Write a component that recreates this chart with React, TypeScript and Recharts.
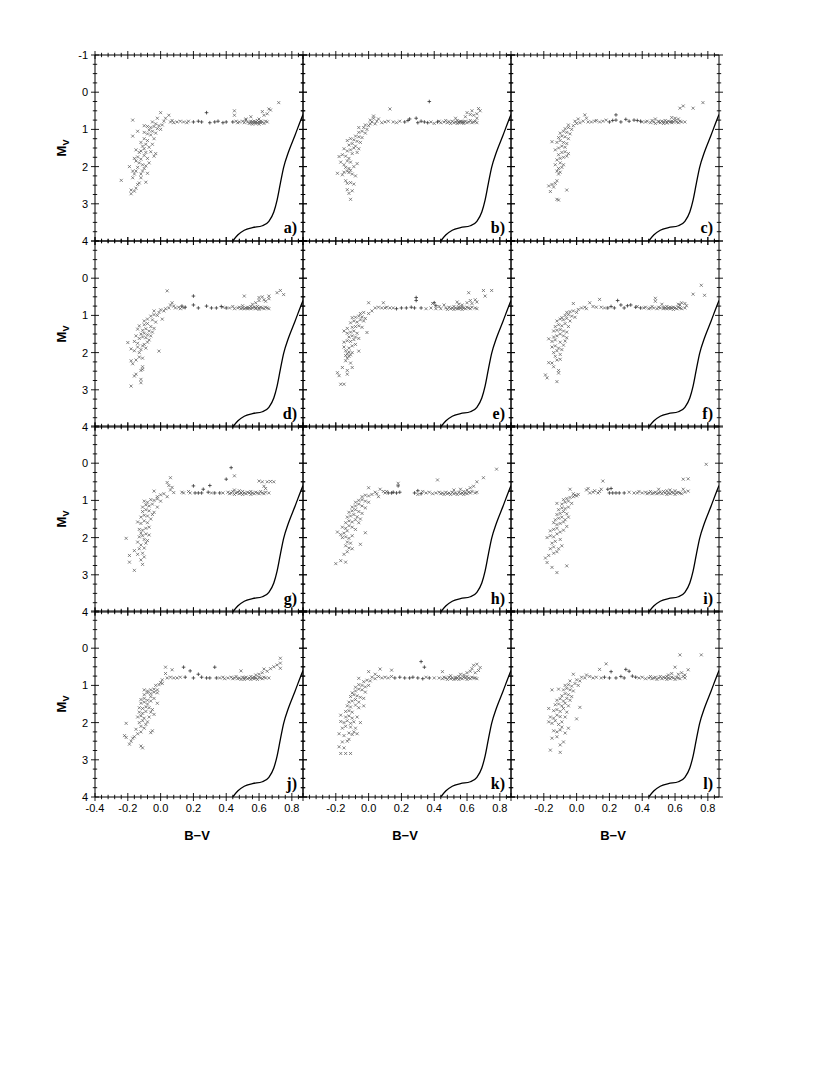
import { ScatterChart, Scatter, XAxis, YAxis } from "recharts";

// B-V, M_V pairs ("x" markers)
const aCross = [
  [-0.24, 2.37], [-0.19, 2.0], [-0.18, 2.63], [-0.18, 2.73], [-0.16, 2.66], [-0.15, 2.58], [-0.14, 2.48], [-0.13, 2.44],
  [-0.17, 2.3], [-0.16, 2.2], [-0.17, 2.12], [-0.15, 2.12], [-0.14, 2.02], [-0.12, 2.3], [-0.12, 2.2], [-0.11, 2.12],
  [-0.13, 1.9], [-0.15, 1.85], [-0.16, 1.78], [-0.14, 1.74], [-0.12, 1.8], [-0.11, 1.95], [-0.1, 2.05], [-0.09, 1.98],
  [-0.08, 2.18], [-0.09, 2.42], [-0.13, 1.62], [-0.15, 1.55], [-0.12, 1.58], [-0.1, 1.7], [-0.1, 1.52], [-0.09, 1.62],
  [-0.08, 1.78], [-0.07, 1.9], [-0.11, 1.45], [-0.09, 1.4], [-0.12, 1.35], [-0.1, 1.25], [-0.08, 1.3], [-0.07, 1.48],
  [-0.06, 1.6], [-0.04, 1.72], [-0.03, 1.65], [-0.05, 1.4], [-0.04, 1.25], [-0.06, 1.15], [-0.08, 1.12], [-0.1, 1.08],
  [-0.14, 1.05], [-0.17, 1.18], [-0.07, 1.02], [-0.05, 1.05], [-0.03, 1.1], [-0.06, 0.95], [-0.04, 0.92], [-0.02, 0.98],
  [-0.01, 0.9], [0.0, 1.0], [0.01, 0.88], [-0.08, 0.92], [-0.1, 0.9], [-0.03, 0.85], [0.02, 0.78], [-0.17, 0.75],
  [0.0, 0.55], [0.05, 0.62], [0.03, 0.7], [0.06, 0.8], [0.07, 0.76], [-0.05, 0.8], [-0.02, 0.7], [0.08, 0.82],
  [0.1, 0.8], [0.12, 0.78], [0.14, 0.8], [0.16, 0.82], [0.17, 0.78],
  [0.45, 0.5], [0.45, 0.62], [0.46, 0.78], [0.47, 0.82], [0.48, 0.8], [0.5, 0.78], [0.51, 0.82], [0.52, 0.75],
  [0.53, 0.8], [0.54, 0.84], [0.55, 0.78], [0.55, 0.82], [0.56, 0.8], [0.56, 0.86], [0.57, 0.78], [0.57, 0.82],
  [0.58, 0.8], [0.58, 0.84], [0.59, 0.76], [0.59, 0.82], [0.6, 0.8], [0.6, 0.86], [0.61, 0.78], [0.61, 0.82],
  [0.62, 0.8], [0.63, 0.84], [0.64, 0.78], [0.65, 0.8], [0.52, 0.72], [0.6, 0.72], [0.62, 0.52], [0.63, 0.62],
  [0.65, 0.58], [0.66, 0.45], [0.67, 0.48], [0.72, 0.28], [0.55, 0.66],
];
const aPlus = [[0.2, 0.8], [0.23, 0.78], [0.25, 0.8], [0.28, 0.55], [0.3, 0.82], [0.33, 0.8], [0.35, 0.78], [0.38, 0.82], [0.4, 0.8], [0.44, 0.8]];

const bCross = [
  [-0.11, 2.88], [-0.12, 2.72], [-0.13, 2.62], [-0.1, 2.65], [-0.13, 2.45], [-0.11, 2.43], [-0.09, 2.47], [-0.14, 2.38],
  [-0.19, 2.18], [-0.16, 2.22], [-0.15, 2.15], [-0.13, 2.12], [-0.12, 2.16], [-0.11, 2.1], [-0.12, 2.05], [-0.14, 2.02],
  [-0.1, 2.2], [-0.08, 2.25], [-0.09, 2.0], [-0.15, 1.95], [-0.17, 1.88], [-0.13, 1.85], [-0.11, 1.88], [-0.07, 1.92],
  [-0.18, 1.73], [-0.16, 1.68], [-0.14, 1.72], [-0.12, 1.78], [-0.1, 1.65], [-0.13, 1.58], [-0.11, 1.55], [-0.15, 1.52],
  [-0.09, 1.5], [-0.07, 1.62], [-0.12, 1.42], [-0.1, 1.38], [-0.08, 1.45], [-0.06, 1.52], [-0.13, 1.3], [-0.11, 1.25],
  [-0.09, 1.28], [-0.07, 1.32], [-0.05, 1.35], [-0.08, 1.18], [-0.06, 1.2], [-0.04, 1.22], [-0.06, 1.08], [-0.04, 1.05],
  [-0.02, 1.1], [-0.06, 0.95], [-0.03, 0.95], [-0.01, 1.0], [-0.02, 0.88], [0.0, 0.9], [0.01, 0.85], [0.02, 0.8],
  [0.01, 0.75], [0.03, 0.7], [0.03, 0.64], [0.05, 0.78], [0.06, 0.72], [0.04, 0.85],
  [0.08, 0.82], [0.1, 0.8], [0.13, 0.45], [0.12, 0.78], [0.15, 0.8], [0.17, 0.82], [0.19, 0.78],
  [0.38, 0.8], [0.4, 0.84], [0.43, 0.78], [0.44, 0.82], [0.46, 0.8], [0.47, 0.76], [0.48, 0.82], [0.49, 0.79],
  [0.5, 0.84], [0.51, 0.78], [0.52, 0.82], [0.53, 0.8], [0.54, 0.76], [0.54, 0.84], [0.55, 0.8], [0.55, 0.82],
  [0.56, 0.78], [0.56, 0.8], [0.57, 0.82], [0.57, 0.79], [0.58, 0.8], [0.58, 0.84], [0.59, 0.78], [0.6, 0.82],
  [0.61, 0.8], [0.62, 0.76], [0.63, 0.82], [0.64, 0.8], [0.65, 0.78], [0.66, 0.82], [0.53, 0.7], [0.59, 0.66],
  [0.6, 0.55], [0.62, 0.6], [0.63, 0.5], [0.64, 0.62], [0.66, 0.58], [0.67, 0.44], [0.68, 0.5], [0.66, 0.7],
];
const bPlus = [[0.22, 0.8], [0.24, 0.76], [0.25, 0.72], [0.29, 0.7], [0.3, 0.82], [0.32, 0.78], [0.34, 0.8], [0.37, 0.25], [0.36, 0.82], [0.42, 0.8]];

const cCross = [
  [-0.11, 2.9], [-0.12, 2.88], [-0.16, 2.67], [-0.17, 2.52], [-0.15, 2.48], [-0.13, 2.45], [-0.14, 2.55], [-0.06, 2.63],
  [-0.12, 2.38], [-0.11, 2.2], [-0.1, 2.15], [-0.12, 2.12], [-0.11, 2.05], [-0.09, 2.02], [-0.13, 1.95], [-0.1, 1.9],
  [-0.08, 1.95], [-0.12, 1.82], [-0.1, 1.78], [-0.08, 1.75], [-0.06, 1.72], [-0.11, 1.68], [-0.09, 1.62], [-0.07, 1.6],
  [-0.05, 1.65], [-0.13, 1.55], [-0.11, 1.5], [-0.09, 1.45], [-0.07, 1.48], [-0.15, 1.33], [-0.12, 1.35], [-0.1, 1.3],
  [-0.08, 1.35], [-0.06, 1.38], [-0.11, 1.22], [-0.09, 1.18], [-0.07, 1.2], [-0.05, 1.25], [-0.1, 1.1], [-0.08, 1.05],
  [-0.06, 1.08], [-0.04, 1.12], [-0.07, 0.98], [-0.05, 0.95], [-0.03, 1.0], [-0.05, 0.88], [-0.02, 0.9], [0.0, 0.84],
  [-0.01, 0.78], [0.02, 0.82], [0.01, 0.72], [0.04, 0.78], [0.05, 0.61], [0.06, 0.7], [0.07, 0.8],
  [0.09, 0.8], [0.11, 0.78], [0.12, 0.76], [0.14, 0.8], [0.16, 0.78], [0.18, 0.75],
  [0.4, 0.8], [0.42, 0.8], [0.43, 0.78], [0.45, 0.82], [0.46, 0.76], [0.47, 0.8], [0.48, 0.72], [0.48, 0.84],
  [0.5, 0.8], [0.5, 0.78], [0.51, 0.82], [0.52, 0.78], [0.53, 0.8], [0.53, 0.84], [0.54, 0.76], [0.55, 0.8],
  [0.55, 0.83], [0.56, 0.78], [0.57, 0.8], [0.58, 0.82], [0.58, 0.78], [0.59, 0.8], [0.6, 0.76], [0.61, 0.8],
  [0.62, 0.82], [0.63, 0.78], [0.64, 0.8], [0.66, 0.8], [0.58, 0.68], [0.6, 0.7], [0.62, 0.72], [0.63, 0.43],
  [0.65, 0.37], [0.71, 0.43], [0.77, 0.28],
];
const cPlus = [[0.2, 0.8], [0.22, 0.76], [0.24, 0.61], [0.24, 0.75], [0.27, 0.8], [0.3, 0.73], [0.32, 0.78], [0.35, 0.75], [0.37, 0.76], [0.39, 0.78]];

const dCross = [
  [-0.18, 2.9], [-0.12, 2.81], [-0.12, 2.72], [-0.16, 2.63], [-0.15, 2.58], [-0.12, 2.48], [-0.11, 2.45], [-0.11, 2.38],
  [-0.17, 2.3], [-0.18, 2.22], [-0.15, 2.2], [-0.13, 2.12], [-0.11, 2.15], [-0.13, 2.0], [-0.16, 1.95], [-0.18, 1.9],
  [-0.12, 1.92], [-0.09, 1.88], [-0.01, 1.96], [-0.14, 1.85], [-0.11, 1.82], [-0.2, 1.73], [-0.16, 1.7], [-0.14, 1.75],
  [-0.1, 1.78], [-0.08, 1.72], [-0.13, 1.62], [-0.11, 1.58], [-0.09, 1.6], [-0.07, 1.66], [-0.15, 1.55], [-0.12, 1.5],
  [-0.1, 1.48], [-0.08, 1.52], [-0.06, 1.55], [-0.14, 1.37], [-0.11, 1.4], [-0.09, 1.36], [-0.07, 1.42], [-0.05, 1.45],
  [-0.13, 1.28], [-0.1, 1.25], [-0.08, 1.22], [-0.06, 1.3], [-0.04, 1.35], [-0.1, 1.15], [-0.08, 1.1], [-0.05, 1.12],
  [-0.03, 1.18], [0.01, 1.1], [-0.06, 1.02], [-0.04, 0.98], [-0.02, 1.0], [-0.04, 0.88], [-0.01, 0.92], [0.0, 0.85],
  [0.02, 0.88], [0.04, 0.34], [0.03, 0.82], [0.05, 0.8], [0.07, 0.66], [0.08, 0.75], [0.06, 0.72], [0.09, 0.8],
  [0.11, 0.78], [0.12, 0.82], [0.14, 0.8],
  [0.38, 0.78], [0.42, 0.8], [0.44, 0.76], [0.45, 0.82], [0.47, 0.8], [0.48, 0.78], [0.49, 0.82], [0.5, 0.8],
  [0.5, 0.74], [0.51, 0.48], [0.51, 0.82], [0.52, 0.8], [0.53, 0.78], [0.53, 0.82], [0.54, 0.8], [0.55, 0.76],
  [0.55, 0.82], [0.56, 0.8], [0.57, 0.78], [0.58, 0.82], [0.58, 0.8], [0.59, 0.76], [0.6, 0.8], [0.6, 0.84],
  [0.61, 0.78], [0.62, 0.8], [0.63, 0.82], [0.64, 0.78], [0.65, 0.8], [0.66, 0.82], [0.56, 0.7], [0.58, 0.66],
  [0.6, 0.6], [0.6, 0.52], [0.62, 0.5], [0.63, 0.58], [0.64, 0.62], [0.66, 0.55], [0.66, 0.48], [0.71, 0.39],
  [0.73, 0.33], [0.75, 0.44],
];
const dPlus = [[0.13, 0.75], [0.15, 0.78], [0.2, 0.48], [0.2, 0.72], [0.23, 0.8], [0.28, 0.75], [0.31, 0.8], [0.34, 0.8], [0.37, 0.76], [0.4, 0.8]];

const eCross = [
  [-0.17, 2.85], [-0.15, 2.85], [-0.19, 2.54], [-0.18, 2.62], [-0.16, 2.4], [-0.13, 2.58], [-0.13, 2.48], [-0.1, 2.4],
  [-0.11, 2.28], [-0.14, 2.22], [-0.13, 2.15], [-0.12, 2.1], [-0.14, 2.08], [-0.13, 2.03], [-0.11, 2.06], [-0.1, 2.0],
  [-0.12, 1.98], [-0.14, 1.95], [-0.06, 1.96], [-0.15, 1.85], [-0.12, 1.88], [-0.1, 1.82], [-0.08, 1.78], [-0.15, 1.72],
  [-0.13, 1.68], [-0.11, 1.7], [-0.09, 1.65], [-0.12, 1.58], [-0.1, 1.55], [-0.08, 1.58], [-0.06, 1.62], [-0.15, 1.42],
  [-0.13, 1.48], [-0.11, 1.45], [-0.09, 1.42], [-0.07, 1.48], [-0.01, 1.46], [-0.13, 1.35], [-0.1, 1.32], [-0.08, 1.3],
  [-0.06, 1.28], [-0.04, 1.32], [-0.11, 1.2], [-0.09, 1.15], [-0.07, 1.18], [-0.05, 1.12], [-0.03, 1.15], [-0.1, 1.06],
  [-0.08, 1.05], [-0.06, 1.02], [-0.04, 1.04], [-0.02, 1.08], [-0.05, 0.95], [-0.03, 0.92], [0.0, 0.95], [0.02, 0.88],
  [0.0, 0.66], [0.04, 0.8], [0.06, 0.78], [0.09, 0.66], [0.08, 0.8],
  [0.1, 0.8], [0.11, 0.78], [0.13, 0.8], [0.15, 0.8],
  [0.35, 0.82], [0.38, 0.8], [0.39, 0.68], [0.41, 0.82], [0.43, 0.76], [0.44, 0.82], [0.46, 0.72], [0.47, 0.8],
  [0.48, 0.84], [0.49, 0.78], [0.5, 0.82], [0.51, 0.8], [0.52, 0.76], [0.52, 0.84], [0.53, 0.8], [0.54, 0.82],
  [0.55, 0.78], [0.55, 0.82], [0.56, 0.8], [0.57, 0.84], [0.57, 0.78], [0.58, 0.8], [0.59, 0.82], [0.6, 0.78],
  [0.61, 0.8], [0.62, 0.82], [0.63, 0.78], [0.65, 0.8], [0.66, 0.82], [0.54, 0.64], [0.55, 0.7], [0.57, 0.72],
  [0.61, 0.39], [0.6, 0.66], [0.62, 0.6], [0.63, 0.68], [0.65, 0.58], [0.66, 0.64], [0.7, 0.33], [0.71, 0.48],
  [0.75, 0.33],
];
const ePlus = [[0.17, 0.82], [0.2, 0.8], [0.23, 0.8], [0.26, 0.78], [0.28, 0.8], [0.29, 0.52], [0.29, 0.6], [0.32, 0.8], [0.4, 0.66], [0.41, 0.74]];

const fCross = [
  [-0.12, 2.78], [-0.19, 2.6], [-0.18, 2.68], [-0.11, 2.55], [-0.11, 2.48], [-0.14, 2.38], [-0.17, 2.27], [-0.15, 2.28],
  [-0.12, 2.2], [-0.1, 2.18], [-0.13, 2.1], [-0.1, 2.05], [-0.14, 2.0], [-0.12, 1.95], [-0.09, 1.92], [-0.15, 1.85],
  [-0.13, 1.82], [-0.11, 1.88], [-0.08, 1.8], [-0.17, 1.63], [-0.15, 1.7], [-0.13, 1.66], [-0.1, 1.72], [-0.07, 1.69],
  [-0.14, 1.58], [-0.12, 1.55], [-0.1, 1.5], [-0.08, 1.55], [-0.06, 1.6], [-0.14, 1.42], [-0.12, 1.4], [-0.1, 1.38],
  [-0.08, 1.42], [-0.06, 1.45], [-0.13, 1.3], [-0.11, 1.25], [-0.09, 1.28], [-0.07, 1.22], [-0.05, 1.3], [-0.12, 1.15],
  [-0.1, 1.1], [-0.08, 1.12], [-0.06, 1.08], [-0.04, 1.15], [-0.09, 1.06], [-0.07, 1.0], [-0.05, 0.98], [-0.03, 1.02],
  [-0.01, 1.05], [-0.06, 0.92], [-0.04, 0.9], [-0.02, 0.88], [0.0, 0.92], [-0.02, 0.68], [0.01, 0.84], [0.03, 0.8],
  [0.05, 0.78], [0.06, 0.82], [0.08, 0.66], [0.1, 0.76], [0.14, 0.57], [0.12, 0.78],
  [0.15, 0.78], [0.17, 0.8],
  [0.37, 0.76], [0.41, 0.8], [0.42, 0.78], [0.44, 0.82], [0.45, 0.8], [0.46, 0.76], [0.47, 0.8], [0.48, 0.54],
  [0.48, 0.62], [0.49, 0.82], [0.5, 0.78], [0.51, 0.8], [0.52, 0.7], [0.53, 0.82], [0.53, 0.78], [0.54, 0.8],
  [0.55, 0.76], [0.55, 0.82], [0.56, 0.8], [0.57, 0.78], [0.57, 0.82], [0.58, 0.8], [0.59, 0.84], [0.59, 0.78],
  [0.6, 0.8], [0.61, 0.82], [0.62, 0.78], [0.63, 0.8], [0.64, 0.82], [0.66, 0.8], [0.62, 0.7], [0.63, 0.72],
  [0.64, 0.66], [0.66, 0.68], [0.67, 0.74], [0.71, 0.43], [0.76, 0.19], [0.78, 0.46],
];
const fPlus = [[0.19, 0.8], [0.21, 0.76], [0.23, 0.8], [0.25, 0.6], [0.27, 0.72], [0.29, 0.8], [0.31, 0.74], [0.33, 0.72], [0.36, 0.78], [0.39, 0.8]];

const gCross = [
  [-0.16, 2.88], [-0.21, 2.02], [-0.19, 2.48], [-0.19, 2.66], [-0.11, 2.72], [-0.12, 2.6], [-0.1, 2.52], [-0.11, 2.42],
  [-0.14, 2.45], [-0.16, 2.35], [-0.13, 2.3], [-0.1, 2.28], [-0.12, 2.2], [-0.09, 2.15], [-0.14, 2.12], [-0.1, 2.05],
  [-0.08, 2.08], [-0.13, 1.98], [-0.11, 1.95], [-0.12, 1.88], [-0.09, 1.9], [-0.07, 1.93], [-0.13, 1.78], [-0.11, 1.8],
  [-0.09, 1.75], [-0.07, 1.72], [-0.14, 1.58], [-0.12, 1.62], [-0.1, 1.55], [-0.08, 1.6], [-0.06, 1.5], [-0.12, 1.45],
  [-0.1, 1.4], [-0.08, 1.42], [-0.05, 1.38], [-0.11, 1.3], [-0.09, 1.25], [-0.07, 1.28], [-0.04, 1.32], [-0.11, 1.18],
  [-0.09, 1.12], [-0.07, 1.15], [-0.05, 1.1], [-0.02, 1.18], [-0.1, 1.02], [-0.08, 1.05], [-0.06, 0.98], [-0.04, 1.0],
  [-0.02, 0.96], [0.0, 1.02], [-0.04, 0.75], [-0.02, 0.9], [0.0, 0.85], [0.02, 0.82], [0.04, 0.52], [0.06, 0.39],
  [0.05, 0.6], [0.06, 0.72], [0.08, 0.79], [0.04, 0.9], [0.07, 0.65],
  [0.13, 0.78], [0.14, 0.8], [0.17, 0.76], [0.18, 0.8],
  [0.31, 0.8], [0.38, 0.8], [0.41, 0.78], [0.42, 0.82], [0.43, 0.8], [0.44, 0.76], [0.45, 0.34], [0.45, 0.84],
  [0.46, 0.8], [0.47, 0.78], [0.48, 0.82], [0.49, 0.8], [0.5, 0.76], [0.5, 0.84], [0.51, 0.8], [0.52, 0.82],
  [0.53, 0.78], [0.54, 0.8], [0.55, 0.84], [0.55, 0.76], [0.56, 0.8], [0.57, 0.82], [0.58, 0.78], [0.59, 0.8],
  [0.6, 0.82], [0.61, 0.76], [0.62, 0.8], [0.63, 0.82], [0.64, 0.78], [0.66, 0.8], [0.45, 0.72], [0.48, 0.74],
  [0.6, 0.48], [0.62, 0.5], [0.63, 0.62], [0.64, 0.68], [0.65, 0.5], [0.67, 0.49], [0.69, 0.5],
];
const gPlus = [[0.2, 0.61], [0.21, 0.8], [0.23, 0.8], [0.25, 0.8], [0.26, 0.7], [0.29, 0.78], [0.3, 0.6], [0.33, 0.8], [0.36, 0.8], [0.4, 0.43], [0.43, 0.12]];

const hCross = [
  [-0.2, 2.7], [-0.17, 2.62], [-0.14, 2.66], [-0.15, 2.45], [-0.13, 2.38], [-0.12, 2.28], [-0.14, 2.22], [-0.1, 2.3],
  [-0.13, 2.12], [-0.11, 2.15], [-0.05, 2.18], [-0.16, 2.0], [-0.14, 1.98], [-0.12, 2.02], [-0.1, 1.95], [-0.19, 1.85],
  [-0.17, 1.92], [-0.15, 1.88], [-0.13, 1.82], [-0.02, 1.87], [-0.16, 1.72], [-0.14, 1.75], [-0.12, 1.68], [-0.1, 1.72],
  [-0.08, 1.78], [-0.14, 1.6], [-0.12, 1.55], [-0.1, 1.58], [-0.08, 1.52], [-0.06, 1.6], [-0.13, 1.45], [-0.11, 1.42],
  [-0.09, 1.38], [-0.07, 1.44], [-0.05, 1.5], [-0.12, 1.32], [-0.1, 1.28], [-0.08, 1.25], [-0.06, 1.3], [-0.04, 1.35],
  [-0.1, 1.18], [-0.08, 1.15], [-0.06, 1.1], [-0.04, 1.15], [-0.02, 1.2], [-0.08, 1.05], [-0.06, 1.0], [-0.04, 0.98],
  [-0.02, 1.02], [0.0, 1.05], [-0.04, 0.9], [-0.02, 0.86], [0.0, 0.88], [0.02, 0.84], [0.0, 0.66], [0.04, 0.78],
  [0.05, 0.82], [0.07, 0.7], [0.09, 0.76], [0.06, 0.9],
  [0.1, 0.8], [0.11, 0.76], [0.18, 0.54],
  [0.3, 0.84], [0.33, 0.76], [0.35, 0.8], [0.37, 0.78], [0.39, 0.82], [0.41, 0.8], [0.42, 0.45], [0.43, 0.78],
  [0.44, 0.82], [0.45, 0.8], [0.46, 0.84], [0.47, 0.78], [0.48, 0.82], [0.49, 0.8], [0.5, 0.84], [0.51, 0.78],
  [0.52, 0.82], [0.53, 0.8], [0.54, 0.84], [0.55, 0.78], [0.56, 0.82], [0.57, 0.8], [0.58, 0.76], [0.58, 0.84],
  [0.59, 0.8], [0.6, 0.82], [0.61, 0.78], [0.62, 0.8], [0.63, 0.76], [0.65, 0.8], [0.66, 0.78], [0.52, 0.72],
  [0.56, 0.7], [0.6, 0.72], [0.62, 0.66], [0.64, 0.62], [0.66, 0.5], [0.7, 0.39], [0.78, 0.16],
];
const hPlus = [[0.12, 0.8], [0.14, 0.8], [0.15, 0.78], [0.17, 0.8], [0.18, 0.61], [0.19, 0.78], [0.28, 0.8], [0.3, 0.74], [0.32, 0.82]];

const iCross = [
  [-0.18, 2.67], [-0.15, 2.8], [-0.12, 2.94], [-0.06, 2.76], [-0.19, 2.55], [-0.17, 2.48], [-0.14, 2.42], [-0.12, 2.38],
  [-0.16, 2.3], [-0.14, 2.25], [-0.11, 2.3], [-0.09, 2.22], [-0.15, 2.15], [-0.13, 2.1], [-0.1, 2.05], [-0.18, 2.0],
  [-0.16, 1.95], [-0.14, 1.98], [-0.12, 1.9], [-0.1, 1.85], [-0.16, 1.82], [-0.14, 1.78], [-0.12, 1.75], [-0.08, 1.8],
  [-0.14, 1.6], [-0.12, 1.65], [-0.1, 1.62], [-0.08, 1.58], [-0.06, 1.7], [-0.13, 1.52], [-0.11, 1.48], [-0.09, 1.45],
  [-0.07, 1.52], [-0.12, 1.38], [-0.1, 1.35], [-0.08, 1.3], [-0.06, 1.36], [-0.05, 1.45], [-0.11, 1.25], [-0.09, 1.2],
  [-0.07, 1.22], [-0.05, 1.18], [-0.12, 1.08], [-0.09, 1.1], [-0.07, 1.05], [-0.05, 1.02], [-0.03, 1.08], [-0.08, 0.98],
  [-0.06, 0.95], [-0.04, 0.92], [-0.02, 0.9], [-0.04, 0.7], [-0.01, 0.86], [0.0, 0.88], [0.01, 0.84], [-0.02, 0.82],
  [0.06, 0.72], [0.07, 0.68], [0.08, 0.8], [0.1, 0.78], [0.11, 0.74], [0.13, 0.8], [0.15, 0.7], [0.16, 0.48], [0.14, 0.76],
  [0.32, 0.78], [0.35, 0.8], [0.37, 0.8], [0.38, 0.76], [0.4, 0.8], [0.42, 0.78], [0.43, 0.82], [0.44, 0.8],
  [0.45, 0.76], [0.46, 0.82], [0.47, 0.8], [0.48, 0.78], [0.49, 0.82], [0.5, 0.8], [0.5, 0.7], [0.51, 0.78],
  [0.52, 0.82], [0.53, 0.76], [0.54, 0.8], [0.55, 0.84], [0.55, 0.74], [0.56, 0.8], [0.57, 0.72], [0.57, 0.82],
  [0.58, 0.78], [0.59, 0.8], [0.6, 0.74], [0.6, 0.84], [0.61, 0.8], [0.62, 0.78], [0.63, 0.8], [0.64, 0.82],
  [0.65, 0.43], [0.65, 0.7], [0.66, 0.78], [0.68, 0.42], [0.68, 0.75], [0.79, 0.03],
];
const iPlus = [[0.19, 0.7], [0.21, 0.68], [0.2, 0.8], [0.22, 0.8], [0.24, 0.8], [0.26, 0.8], [0.29, 0.8]];

const jCross = [
  [-0.21, 2.02], [-0.22, 2.35], [-0.21, 2.4], [-0.19, 2.58], [-0.18, 2.5], [-0.17, 2.42], [-0.16, 2.38], [-0.12, 2.63],
  [-0.11, 2.68], [-0.14, 2.3], [-0.12, 2.25], [-0.06, 2.27], [-0.05, 2.22], [-0.15, 2.18], [-0.12, 2.1], [-0.1, 2.15],
  [-0.09, 2.05], [-0.13, 2.0], [-0.11, 1.95], [-0.08, 1.98], [-0.14, 1.85], [-0.12, 1.82], [-0.1, 1.88], [-0.07, 1.85],
  [-0.13, 1.72], [-0.11, 1.75], [-0.09, 1.7], [-0.06, 1.72], [-0.04, 1.78], [-0.13, 1.6], [-0.11, 1.62], [-0.09, 1.58],
  [-0.07, 1.6], [-0.05, 1.65], [-0.12, 1.48], [-0.1, 1.45], [-0.08, 1.5], [-0.06, 1.42], [-0.02, 1.48], [-0.12, 1.38],
  [-0.1, 1.35], [-0.08, 1.4], [-0.06, 1.3], [-0.04, 1.35], [-0.1, 1.25], [-0.08, 1.2], [-0.06, 1.22], [-0.04, 1.18],
  [-0.02, 1.2], [-0.1, 1.12], [-0.08, 1.15], [-0.06, 1.12], [-0.04, 1.1], [-0.02, 1.12], [-0.03, 1.0], [-0.01, 0.98],
  [0.0, 0.92], [0.01, 0.95], [0.01, 0.85], [0.03, 0.51], [0.03, 0.68], [0.04, 0.8], [0.06, 0.78], [0.07, 0.58],
  [0.08, 0.8], [0.1, 0.8], [0.12, 0.78],
  [0.36, 0.8], [0.38, 0.78], [0.39, 0.82], [0.41, 0.8], [0.43, 0.78], [0.44, 0.82], [0.45, 0.8], [0.46, 0.76],
  [0.47, 0.82], [0.48, 0.8], [0.49, 0.61], [0.49, 0.84], [0.5, 0.78], [0.51, 0.8], [0.51, 0.84], [0.52, 0.78],
  [0.53, 0.82], [0.54, 0.8], [0.55, 0.76], [0.55, 0.84], [0.56, 0.8], [0.57, 0.78], [0.57, 0.82], [0.58, 0.8],
  [0.59, 0.84], [0.6, 0.78], [0.61, 0.8], [0.62, 0.82], [0.63, 0.78], [0.64, 0.8], [0.66, 0.8], [0.58, 0.72],
  [0.6, 0.7], [0.62, 0.66], [0.63, 0.56], [0.65, 0.62], [0.67, 0.55], [0.69, 0.5], [0.71, 0.45], [0.73, 0.27],
  [0.73, 0.4], [0.73, 0.54],
];
const jPlus = [[0.14, 0.51], [0.15, 0.78], [0.18, 0.61], [0.2, 0.8], [0.23, 0.7], [0.25, 0.78], [0.28, 0.8], [0.3, 0.8], [0.33, 0.51], [0.34, 0.8]];

const kCross = [
  [-0.17, 2.83], [-0.14, 2.83], [-0.11, 2.83], [-0.18, 2.65], [-0.15, 2.68], [-0.16, 2.52], [-0.13, 2.5], [-0.12, 2.45],
  [-0.18, 2.3], [-0.15, 2.35], [-0.12, 2.28], [-0.1, 2.32], [-0.09, 2.25], [-0.07, 2.3], [-0.16, 2.15], [-0.14, 2.1],
  [-0.11, 2.12], [-0.08, 2.15], [-0.17, 1.97], [-0.15, 2.0], [-0.13, 1.95], [-0.11, 2.02], [-0.09, 1.98], [-0.05, 2.0],
  [-0.17, 1.8], [-0.14, 1.85], [-0.12, 1.82], [-0.1, 1.88], [-0.07, 1.85], [-0.14, 1.7], [-0.12, 1.68], [-0.1, 1.72],
  [-0.08, 1.53], [-0.11, 1.58], [-0.13, 1.55], [-0.06, 1.6], [-0.03, 1.55], [-0.12, 1.45], [-0.1, 1.42], [-0.08, 1.38],
  [-0.06, 1.45], [-0.11, 1.3], [-0.09, 1.25], [-0.07, 1.28], [-0.05, 1.32], [-0.03, 1.35], [-0.1, 1.2], [-0.08, 1.15],
  [-0.06, 1.1], [-0.04, 1.12], [-0.02, 1.18], [-0.08, 1.05], [-0.06, 0.98], [-0.04, 1.0], [-0.02, 1.04], [0.0, 1.0],
  [-0.06, 0.81], [-0.03, 0.9], [-0.01, 0.86], [0.01, 0.88], [0.0, 0.63], [0.02, 0.78], [0.04, 0.82], [0.04, 0.7],
  [0.07, 0.56], [0.06, 0.76], [0.08, 0.8], [0.1, 0.78], [0.14, 0.59], [0.12, 0.8], [0.14, 0.76],
  [0.35, 0.78], [0.4, 0.8], [0.43, 0.8], [0.45, 0.63], [0.45, 0.82], [0.46, 0.78], [0.47, 0.8], [0.48, 0.84],
  [0.49, 0.78], [0.5, 0.82], [0.5, 0.74], [0.51, 0.8], [0.52, 0.84], [0.53, 0.78], [0.53, 0.82], [0.54, 0.8],
  [0.55, 0.76], [0.55, 0.84], [0.56, 0.8], [0.57, 0.82], [0.58, 0.78], [0.59, 0.8], [0.6, 0.84], [0.6, 0.76],
  [0.61, 0.8], [0.62, 0.82], [0.63, 0.78], [0.64, 0.8], [0.65, 0.8], [0.66, 0.82], [0.56, 0.7], [0.58, 0.72],
  [0.6, 0.66], [0.62, 0.62], [0.63, 0.55], [0.64, 0.46], [0.65, 0.66], [0.66, 0.43], [0.67, 0.6], [0.68, 0.52],
];
const kPlus = [[0.16, 0.8], [0.19, 0.78], [0.22, 0.8], [0.25, 0.8], [0.27, 0.78], [0.3, 0.8], [0.32, 0.36], [0.34, 0.51], [0.33, 0.82], [0.37, 0.8]];

const lCross = [
  [-0.16, 2.74], [-0.1, 2.8], [-0.15, 2.42], [-0.12, 2.38], [-0.1, 2.6], [-0.08, 2.52], [-0.14, 2.22], [-0.12, 2.25],
  [-0.1, 2.2], [-0.09, 2.12], [-0.07, 2.28], [-0.05, 2.15], [-0.17, 1.98], [-0.15, 2.02], [-0.13, 1.95], [-0.11, 2.05],
  [-0.09, 1.98], [0.0, 1.9], [-0.16, 1.85], [-0.14, 1.88], [-0.12, 1.8], [-0.1, 1.84], [-0.07, 1.85], [-0.17, 1.62],
  [-0.14, 1.68], [-0.12, 1.65], [-0.1, 1.7], [-0.08, 1.62], [-0.06, 1.72], [0.02, 1.59], [-0.13, 1.52], [-0.11, 1.5],
  [-0.09, 1.55], [-0.07, 1.48], [-0.05, 1.55], [-0.12, 1.4], [-0.1, 1.36], [-0.08, 1.42], [-0.06, 1.35], [-0.04, 1.4],
  [-0.15, 1.12], [-0.11, 1.1], [-0.09, 1.28], [-0.07, 1.22], [-0.05, 1.25], [-0.03, 1.3], [-0.08, 1.12], [-0.06, 1.08],
  [-0.04, 1.12], [-0.02, 1.15], [-0.07, 1.0], [-0.05, 0.98], [-0.03, 1.02], [-0.01, 0.95], [0.01, 1.0], [-0.04, 0.88],
  [-0.02, 0.7], [0.0, 0.85], [0.02, 0.88], [0.03, 0.78], [0.05, 0.8], [0.06, 0.72], [0.08, 0.76], [0.1, 0.8],
  [0.12, 0.78], [0.14, 0.57], [0.15, 0.8], [0.18, 0.42],
  [0.38, 0.8], [0.4, 0.78], [0.42, 0.82], [0.44, 0.8], [0.45, 0.76], [0.46, 0.82], [0.47, 0.8], [0.48, 0.78],
  [0.49, 0.84], [0.5, 0.8], [0.51, 0.76], [0.52, 0.82], [0.53, 0.78], [0.54, 0.8], [0.55, 0.84], [0.55, 0.76],
  [0.56, 0.8], [0.57, 0.82], [0.58, 0.78], [0.59, 0.8], [0.6, 0.84], [0.6, 0.51], [0.61, 0.78], [0.62, 0.8],
  [0.62, 0.7], [0.63, 0.18], [0.63, 0.82], [0.64, 0.66], [0.65, 0.76], [0.66, 0.72], [0.66, 0.8], [0.68, 0.58],
  [0.76, 0.18], [0.56, 0.72], [0.58, 0.68],
];
const lPlus = [[0.17, 0.78], [0.2, 0.8], [0.21, 0.63], [0.24, 0.8], [0.27, 0.76], [0.29, 0.8], [0.3, 0.57], [0.32, 0.62], [0.34, 0.75], [0.36, 0.78]];

// reference giant-branch line, same in every panel
const curveBV = [0.44, 0.47, 0.51, 0.56, 0.62, 0.66, 0.69, 0.71, 0.73, 0.75, 0.78, 0.82, 0.85, 0.868];
const curveMV = [4.0, 3.84, 3.71, 3.64, 3.59, 3.47, 3.22, 2.9, 2.45, 2.02, 1.6, 1.15, 0.8, 0.6];

const panelTags = ["a)", "b)", "c)", "d)", "e)", "f)", "g)", "h)", "i)", "j)", "k)", "l)"];
const crossSets = [aCross, bCross, cCross, dCross, eCross, fCross, gCross, hCross, iCross, jCross, kCross, lCross];
const plusSets = [aPlus, bPlus, cPlus, dPlus, ePlus, fPlus, gPlus, hPlus, iPlus, jPlus, kPlus, lPlus];

const X_DOMAIN = [-0.4, 0.868];
const Y_DOMAIN = [-1, 4];
const xMajor = [-0.4, -0.2, 0, 0.2, 0.4, 0.6, 0.8];
const yMajor = [-1, 0, 1, 2, 3, 4];

const xTicks = Array.from({ length: 32 }, (_, i) => Math.round((-0.4 + i * 0.04) * 100) / 100);
const yTicks = Array.from({ length: 21 }, (_, i) => -1 + i * 0.25);

const COL_X = [95, 303, 511];
const ROW_Y = [55, 241, 426, 611];
const PW = 208;
const PH = 186;
const ML = 30;
const MT = 10;

const SANS = "'Liberation Sans', Arimo, Arial, Helvetica, Roboto, sans-serif";
const SERIF = "'Liberation Serif', Tinos, 'Times New Roman', 'DejaVu Serif', serif";

const toPts = (a: number[][]) => a.map(([bv, mv]) => ({ bv, mv }));
const curvePts = curveBV.map((bv, i) => ({ bv, mv: curveMV[i] }));

const near = (a: number, b: number) => Math.abs(a - b) < 1e-6;

function makeTick(side: string, labels: number[]) {
  return (p: any) => {
    const v = p.payload.value;
    const major = side === "left" || side === "right" ? near(v, Math.round(v)) : xMajor.some((m) => near(m, v));
    const len = major ? 4 : 2.2;
    const show = major && labels.some((m) => near(m, v));
    const horiz = side === "bottom" || side === "top";
    return (
      <g>
        {horiz ? (
          <line x1={p.x} x2={p.x} y1={p.y - len} y2={p.y + len} stroke="#000" strokeWidth={0.9} />
        ) : (
          <line x1={p.x - len} x2={p.x + len} y1={p.y} y2={p.y} stroke="#000" strokeWidth={0.9} />
        )}
        {show && side === "bottom" && (
          <text x={p.x} y={p.y + 15} textAnchor="middle" fontSize={11} fontFamily={SANS} fill="#000">
            {v.toFixed(1)}
          </text>
        )}
        {show && side === "left" && (
          <text x={p.x - 7} y={p.y + 4} textAnchor="end" fontSize={11} fontFamily={SANS} fill="#000">
            {String(v)}
          </text>
        )}
      </g>
    );
  };
}

const CrossMark = (p: any) => {
  const s = 1.5;
  const { cx, cy } = p;
  return (
    <path
      d={`M${cx - s},${cy - s}L${cx + s},${cy + s}M${cx - s},${cy + s}L${cx + s},${cy - s}`}
      stroke="#555"
      strokeWidth={0.7}
      fill="none"
    />
  );
};

const PlusMark = (p: any) => {
  const s = 1.8;
  const { cx, cy } = p;
  return (
    <path d={`M${cx - s},${cy}L${cx + s},${cy}M${cx},${cy - s}L${cx},${cy + s}`} stroke="#333" strokeWidth={0.8} fill="none" />
  );
};

function Panel({ idx }: { idx: number }) {
  const row = Math.floor(idx / 3);
  const col = idx % 3;
  const yLabels = col === 0 ? (row === 0 ? yMajor : yMajor.slice(1)) : [];
  const xLabels = row === 3 ? (col === 0 ? xMajor : xMajor.slice(1)) : [];
  return (
    <div style={{ position: "absolute", left: COL_X[col] - ML, top: ROW_Y[row] - MT }}>
      <ScatterChart width={ML + PW + 10} height={MT + PH + 30} margin={{ top: 0, right: 0, bottom: 0, left: 0 }}>
        <XAxis
          xAxisId="b"
          type="number"
          dataKey="bv"
          domain={X_DOMAIN}
          allowDataOverflow
          ticks={xTicks}
          interval={0}
          tickLine={false}
          tickSize={0}
          tickMargin={0}
          tick={makeTick("bottom", xLabels)}
          axisLine={{ stroke: "#000" }}
          height={30}
          orientation="bottom"
        />
        <XAxis
          xAxisId="t"
          type="number"
          dataKey="bv"
          domain={X_DOMAIN}
          allowDataOverflow
          ticks={xTicks}
          interval={0}
          tickLine={false}
          tickSize={0}
          tickMargin={0}
          tick={makeTick("top", [])}
          axisLine={{ stroke: "#000" }}
          height={MT}
          orientation="top"
        />
        <YAxis
          yAxisId="l"
          type="number"
          dataKey="mv"
          domain={Y_DOMAIN}
          reversed
          allowDataOverflow
          ticks={yTicks}
          interval={0}
          tickLine={false}
          tickSize={0}
          tickMargin={0}
          tick={makeTick("left", yLabels)}
          axisLine={{ stroke: "#000" }}
          width={ML}
          orientation="left"
        />
        <YAxis
          yAxisId="r"
          type="number"
          dataKey="mv"
          domain={Y_DOMAIN}
          reversed
          allowDataOverflow
          ticks={yTicks}
          interval={0}
          tickLine={false}
          tickSize={0}
          tickMargin={0}
          tick={makeTick("right", [])}
          axisLine={{ stroke: "#000" }}
          width={10}
          orientation="right"
        />
        <Scatter
          xAxisId="t"
          yAxisId="r"
          data={curvePts}
          fill="#000"
          line={{ stroke: "#000", strokeWidth: 1.3 }}
          lineJointType="monotoneX"
          shape={() => <g />}
          isAnimationActive={false}
        />
        <Scatter xAxisId="b" yAxisId="l" data={toPts(crossSets[idx])} shape={CrossMark} isAnimationActive={false} />
        <Scatter xAxisId="b" yAxisId="l" data={toPts(plusSets[idx])} shape={PlusMark} isAnimationActive={false} />
      </ScatterChart>
    </div>
  );
}

export default function App() {
  return (
    <div style={{ position: "absolute", left: 0, top: 0, width: 830, height: 1085, background: "#fff" }}>
      <style>{".recharts-surface{overflow:visible}"}</style>
      {panelTags.map((_, i) => (
        <Panel key={i} idx={i} />
      ))}
      {panelTags.map((tag, i) => {
        const row = Math.floor(i / 3);
        const col = i % 3;
        return (
          <div
            key={"t" + i}
            style={{
              position: "absolute",
              left: COL_X[col] + PW - 60,
              width: 54,
              textAlign: "right",
              top: ROW_Y[row] + PH - 21,
              fontFamily: SERIF,
              fontWeight: "bold",
              fontSize: 16,
              lineHeight: "16px",
              color: "#000",
            }}
          >
            {tag}
          </div>
        );
      })}
      {ROW_Y.map((y, r) => (
        <div
          key={"m" + r}
          style={{
            position: "absolute",
            left: 62 - 30,
            top: y + PH / 2 - 9,
            width: 60,
            height: 18,
            textAlign: "center",
            transform: "rotate(-90deg)",
            fontFamily: SANS,
            fontWeight: "bold",
            fontSize: 13,
            lineHeight: "18px",
          }}
        >
          M<sub style={{ fontSize: 9, verticalAlign: "-3px" }}>V</sub>
        </div>
      ))}
      {COL_X.map((x, c) => (
        <div
          key={"b" + c}
          style={{
            position: "absolute",
            left: x + PW / 2 - 42,
            top: 828,
            width: 80,
            textAlign: "center",
            fontFamily: SANS,
            fontWeight: "bold",
            fontSize: 13,
            lineHeight: "16px",
          }}
        >
          B−V
        </div>
      ))}
    </div>
  );
}
